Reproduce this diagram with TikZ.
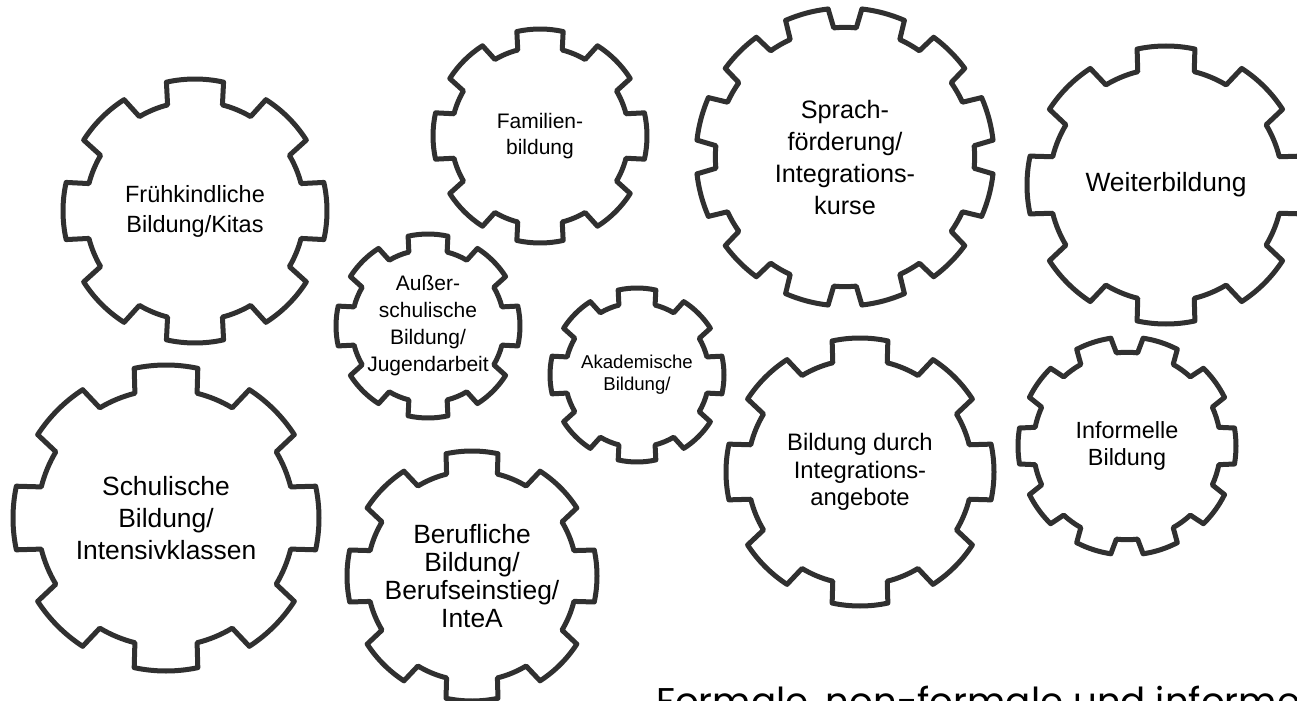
\documentclass[tikz,border=0pt]{standalone}
\usepackage{fontspec}
\setmainfont{Liberation Sans}
\newfontfamily\captionfont{Poppins}
\usepackage{tikz}
\definecolor{geargray}{RGB}{48,48,48}
\tikzset{
  gearline/.style={draw=geargray,line width=2.5pt,line join=round},
  geartext/.style={align=center,inner sep=0pt,text=black},
}
% rim of a gear round a named node: node, outer radius, inner ratio, teeth, first tooth, half top, half base
\newcommand{\gearrim}[7]{%
  \begin{scope}[shift={(#1.center)}]
    \pgfmathsetmacro{\gp}{360/#4}
    \pgfmathsetmacro{\gi}{#2*#3}
    \draw[gearline] (#5-#7:\gi)
      \foreach \k [evaluate=\k as \a using #5+(\k-1)*\gp] in {1,...,#4} {
        -- (\a-#6:#2) arc[start angle=\a-#6,end angle=\a+#6,radius=#2]
        -- (\a+#7:\gi) arc[start angle=\a+#7,end angle=\a+\gp-#7,radius=\gi]
      } -- cycle;
  \end{scope}}
\begin{document}
\begin{tikzpicture}[x=0.5pt,y=-0.5pt]
  \fill[white] (0,0) rectangle (1297,701);
  \path[use as bounding box,clip] (0,0) rectangle (1297,701);
  \node[geartext,font=\fontsize{11.75pt}{15pt}\selectfont] (fruh) at (195,211) {Frühkindliche\\Bildung/Kitas};
  \node[geartext,font=\fontsize{10.5pt}{13pt}\selectfont] (fam) at (540,136) {Familien-\\bildung};
  \node[geartext,font=\fontsize{12.6pt}{16pt}\selectfont] (sprach) at (845,157) {Sprach-\\förderung/\\Integrations-\\kurse};
  \node[geartext,font=\fontsize{13.2pt}{16pt}\selectfont] (weiter) at (1166,185) {Weiterbildung};
  \node[geartext,font=\fontsize{10.5pt}{13.5pt}\selectfont] (aussen) at (428,326) {Außer-\\schulische\\Bildung/\\Jugendarbeit};
  \node[geartext,font=\fontsize{9.3pt}{11pt}\selectfont] (akad) at (637,375) {Akademische\\Bildung/};
  \node[geartext,font=\fontsize{13.2pt}{16pt}\selectfont] (schul) at (166,518) {Schulische\\Bildung/\\Intensivklassen};
  \node[geartext,font=\fontsize{13.2pt}{14pt}\selectfont] (beruf) at (472,576) {Berufliche\\Bildung/\\Berufseinstieg/\\InteA};
  \node[geartext,font=\fontsize{11.9pt}{13.8pt}\selectfont] (angebot) at (860,472) {Bildung durch\\Integrations-\\angebote};
  \node[geartext,font=\fontsize{11.7pt}{13.5pt}\selectfont] (informell) at (1127,446) {Informelle\\Bildung};
  \gearrim{fruh}{132}{0.83}{8}{90}{12.5}{14.5}
  \gearrim{fam}{107}{0.83}{8}{90}{12.5}{14.5}
  \gearrim{sprach}{149}{0.87}{12}{15}{8.5}{10}
  \gearrim{weiter}{139}{0.84}{8}{90}{12}{14}
  \gearrim{aussen}{92}{0.83}{8}{90}{12.5}{14.5}
  \gearrim{akad}{87}{0.83}{8}{90}{12.5}{14.5}
  \gearrim{schul}{153}{0.84}{8}{90}{12}{14}
  \gearrim{beruf}{125}{0.84}{8}{90}{12}{14}
  \gearrim{angebot}{134}{0.84}{8}{90}{12}{14}
  \gearrim{informell}{109}{0.86}{10}{0}{9.5}{11.5}
  \node[anchor=base west,inner sep=0pt,font=\captionfont\fontsize{18.6pt}{18.6pt}\selectfont] (caption) at (656,714) {Formale, non-formale und informelle Bildung};
\end{tikzpicture}
\end{document}
